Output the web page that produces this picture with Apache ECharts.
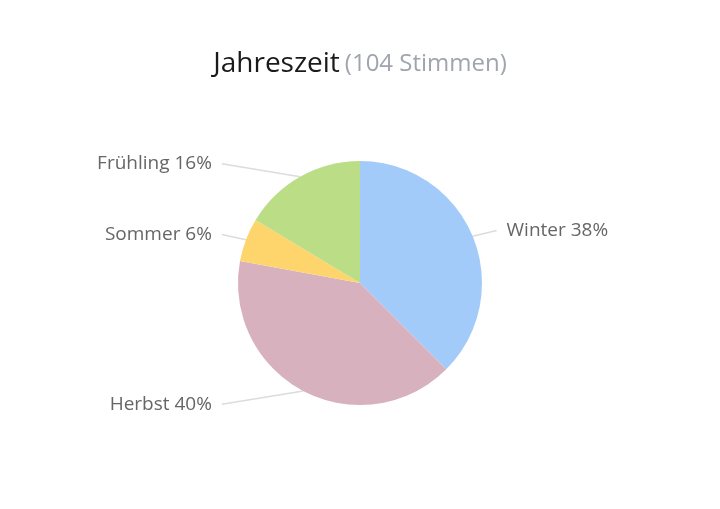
<!DOCTYPE html>
<html>
<head>
<meta charset="utf-8">
<script src="https://cdn.jsdelivr.net/npm/echarts@6/dist/echarts.min.js"></script>
<style>
  html, body { margin: 0; padding: 0; background: #fff; }
  #chart { width: 720px; height: 509px; }
</style>
</head>
<body>
<div id="chart"></div>
<script>
// Daten
const seasons = ["Winter", "Herbst", "Sommer", "Frühling"];
const votes = [39, 42, 6, 17];
const colors = ["#a3cbf9", "#d8b1be", "#fed56c", "#bbdd86"];
const totalVotes = 104;

const myChart = echarts.init(document.querySelector("#chart"));
const option = {
  animation: false,
  title: {
    text: "{a|Jahreszeit} {b|(" + totalVotes + " Stimmen)}",
    left: "center",
    top: 45,
    textStyle: {
      rich: {
        a: { fontFamily: "Open Sans", fontSize: 28, fontWeight: "normal", color: "#1a1a1a" },
        b: { fontFamily: "Open Sans", fontSize: 24, fontWeight: "normal", color: "#a0a5ad" },
      },
    },
  },
  series: [
    {
      type: "pie",
      left: -3,
      right: 21,
      top: 0,
      bottom: 0,
      center: [363, 283],
      radius: 122,
      startAngle: 90,
      clockwise: true,
      data: seasons.map((name, i) => ({
        name,
        value: votes[i],
        itemStyle: { color: colors[i] },
      })),
      label: {
        formatter: (p) => p.name + " " + Math.round(p.percent) + "%",
        fontFamily: "Open Sans",
        fontSize: 19,
        color: "#666666",
        alignTo: "labelLine",
        edgeDistance: 90,
        distanceToLabelLine: 10,
      },
      labelLine: {
        length: 15,
        length2: 10,
        lineStyle: { color: "#dcdcdc", width: 1.5 },
      },
      // gerade Linie vom Kreisrand bis zum Linienende
      labelLayout: (params) => {
        const pts = params.labelLinePoints;
        if (!pts) return {};
        return { labelLinePoints: [pts[0], pts[pts.length - 1]] };
      },
    },
  ],
};
myChart.setOption(option);
</script>
</body>
</html>
